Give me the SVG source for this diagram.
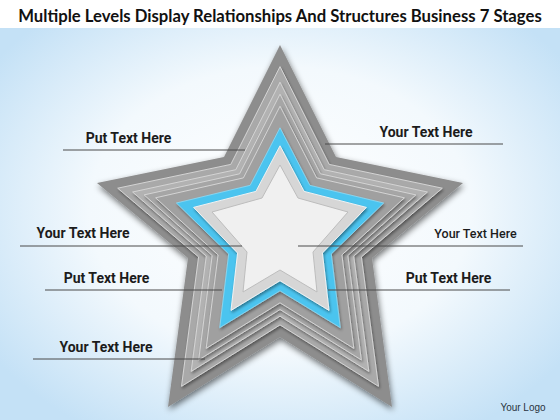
<svg xmlns="http://www.w3.org/2000/svg" width="560" height="420" viewBox="0 0 560 420">
  <defs>
    <radialGradient id="bg" cx="50%" cy="50%" r="62%">
      <stop offset="0" stop-color="#ffffff"/>
      <stop offset="0.55" stop-color="#f3f9fd"/>
      <stop offset="1" stop-color="#c4e1f6"/>
    </radialGradient>
    <filter id="shOuter" x="-20%" y="-20%" width="140%" height="140%">
      <feGaussianBlur in="SourceAlpha" stdDeviation="3"/>
      <feOffset dx="1" dy="3" result="b"/>
      <feComponentTransfer><feFuncA type="linear" slope="0.55"/></feComponentTransfer>
      <feMerge><feMergeNode/><feMergeNode in="SourceGraphic"/></feMerge>
    </filter>
    <filter id="shLayer" x="-20%" y="-20%" width="140%" height="140%">
      <feGaussianBlur in="SourceAlpha" stdDeviation="1.6"/>
      <feOffset dx="0.5" dy="1.5" result="b"/>
      <feComponentTransfer><feFuncA type="linear" slope="0.4"/></feComponentTransfer>
      <feMerge><feMergeNode/><feMergeNode in="SourceGraphic"/></feMerge>
    </filter>
  </defs>
  <style>
    .lbl { font-family: Roboto, "Liberation Sans", Arial, sans-serif; font-weight: 700; font-size: 14px; fill: #1c1c1c; text-anchor: middle; }
    .lbl-sm { font-family: Roboto, "Liberation Sans", Arial, sans-serif; font-weight: 500; font-size: 12.5px; fill: #1c1c1c; text-anchor: middle; }
    .title { font-family: Lato, "Liberation Sans", Arial, sans-serif; font-weight: 700; font-size: 16.7px; fill: #111111; }
    .logo { font-family: "Liberation Sans", Arial, sans-serif; font-size: 10px; fill: #2a3340; text-anchor: middle; }
    .lead { stroke: #4a4a4a; stroke-width: 1; fill: none; }
    .gray { stroke: #d4d4d4; stroke-width: 1; stroke-linejoin: miter; }
  </style>

  <rect x="0" y="0" width="560" height="420" fill="url(#bg)"/>
  <rect x="0" y="0" width="560" height="28" fill="#ffffff"/>

  <g id="title">
    <text class="title" x="280" y="22" text-anchor="middle">Multiple Levels Display Relationships And Structures Business 7 Stages</text>
  </g>

  <g id="star">
    <polygon id="layer1" filter="url(#shOuter)" fill="#8d8d8d" points="280,45 336,157 463,183 372,258 392,407 280,337 168,407 188,258 97,183 224,157"/>
    <polygon id="layer2" class="gray" filter="url(#shLayer)" fill="#a9a9a9" points="280,66.6 329.2,164.4 442.3,188.2 361.4,256.9 378.5,386.3 280,324.9 181.5,386.3 198.6,256.9 117.7,188.2 230.8,164.4"/>
    <polygon id="layer3" class="gray" filter="url(#shLayer)" fill="#b2b2b2" points="280,82.2 324.2,169.7 427.4,192 353.7,256.1 368.8,371.4 280,316.2 191.2,371.4 206.3,256.1 132.6,192 235.8,169.7"/>
    <polygon id="layer4" class="gray" filter="url(#shLayer)" fill="#a6a6a6" points="280,94.2 320.4,173.8 415.9,194.9 347.8,255.5 361.3,359.9 280,309.5 198.7,359.9 212.2,255.5 144.1,194.9 239.6,173.8"/>
    <polygon id="layer5" class="gray" filter="url(#shLayer)" fill="#a0a0a0" points="280,106.2 316.6,177.9 404.4,197.8 341.9,254.9 353.8,348.4 280,302.8 206.2,348.4 218.1,254.9 155.6,197.8 243.4,177.9"/>
    <polygon id="layer6" filter="url(#shLayer)" fill="#4cc4ef" stroke="#8fdcf6" stroke-width="0.8" points="280,127.8 309.8,185.3 383.7,203 331.3,253.9 340.3,327.7 280,290.8 219.7,327.7 228.7,253.9 176.4,203 250.2,185.3"/>
    <polygon id="layer7" filter="url(#shLayer)" fill="#d6d6d6" stroke="#f2f2f2" stroke-width="1" points="280,145.8 304.1,191.4 366.4,207.4 322.4,253 329,310.4 280,280.7 231,310.4 237.6,253 193.6,207.4 255.9,191.4"/>
    <polygon id="core" fill="#f0f0f0" stroke="#bdbdbd" stroke-width="1" points="280,165 298,198 348,212 313,252 317,292 280,270 243,292 247,252 212,212 262,198"/>
  </g>

  <g id="connectors">
    <line class="lead" x1="63" y1="150" x2="245" y2="150"/>
    <line class="lead" x1="325" y1="144" x2="503" y2="144"/>
    <line class="lead" x1="20" y1="246" x2="242" y2="246"/>
    <line class="lead" x1="45" y1="290" x2="222" y2="290"/>
    <line class="lead" x1="33" y1="359" x2="205" y2="359"/>
    <line class="lead" x1="298" y1="246" x2="523" y2="246"/>
    <line class="lead" x1="328" y1="290" x2="510" y2="290"/>
  </g>

  <g id="label-left-top"><text class="lbl" x="128.5" y="143">Put Text Here</text></g>
  <g id="label-right-top"><text class="lbl" x="426" y="137">Your Text Here</text></g>
  <g id="label-left-mid"><text class="lbl" x="83" y="238">Your Text Here</text></g>
  <g id="label-right-mid"><text class="lbl-sm" x="475.5" y="238">Your Text Here</text></g>
  <g id="label-left-low"><text class="lbl" x="106.5" y="283">Put Text Here</text></g>
  <g id="label-right-low"><text class="lbl" x="448.5" y="283">Put Text Here</text></g>
  <g id="label-left-bottom"><text class="lbl" x="106" y="352">Your Text Here</text></g>
  <g id="logo"><text class="logo" x="523" y="411">Your Logo</text></g>
</svg>
